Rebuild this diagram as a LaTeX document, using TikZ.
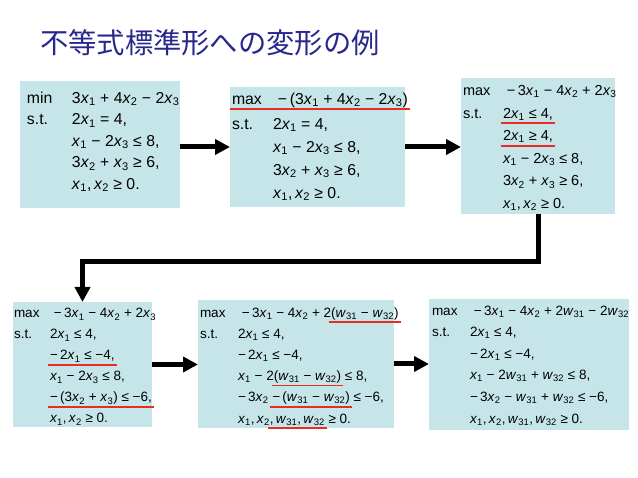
\documentclass[tikz,border=0pt]{standalone}
\usepackage{fontspec}
\setmainfont{Liberation Sans}
\newfontfamily\jpfont{Noto Sans CJK JP}
\usetikzlibrary{arrows.meta}
\definecolor{boxfill}{RGB}{198,229,233}
\definecolor{titleblue}{RGB}{40,40,140}
\definecolor{ulred}{RGB}{232,45,35}
\newcommand\vx[1]{\textit{x}\textsubscript{#1}}
\newcommand\vw[1]{\textit{w}\textsubscript{#1}}
\newlength\labw
\newcommand\lab[1]{\makebox[\labw][l]{#1}}
\newsavebox\ulbox
\newcommand\ul[1]{\sbox\ulbox{#1}\rlap{\hspace{-2pt}\textcolor{ulred}{\rule[-5.8pt]{\dimexpr\wd\ulbox+4pt\relax}{1.9pt}}}\usebox\ulbox}
\tikzset{
  panel/.style={fill=boxfill, draw=none, inner sep=0pt, outer sep=0pt, anchor=north west},
  formula/.style={anchor=north west, inner sep=0pt, outer sep=0pt, align=left},
  arr/.style={line width=5pt, -{Triangle[width=15pt,length=15pt]}},
}
\begin{document}
\begin{tikzpicture}[x=1pt,y=-1pt]
\useasboundingbox (0,0) rectangle (638,478);
\node[anchor=west, text=titleblue, font=\jpfont\fontsize{28.3}{30}\selectfont, inner sep=0pt] (title) at (40,43) {不等式標準形への変形の例};

% panels
\node[panel, minimum width=160pt, minimum height=127pt] (b1) at (20,81) {};
\node[panel, minimum width=175pt, minimum height=120pt] (b2) at (230,87) {};
\node[panel, minimum width=154pt, minimum height=136pt] (b3) at (461,78) {};
\node[panel, minimum width=139pt, minimum height=125pt] (b4) at (13,302) {};
\node[panel, minimum width=196pt, minimum height=128pt] (b5) at (198,300) {};
\node[panel, minimum width=200pt, minimum height=131pt] (b6) at (429,299) {};

% texts
\global\labw=45pt
\node[formula, font=\fontsize{15.8}{21.5}\selectfont] (t1) at (27,88) {%
\strut\lab{min}3\vx1 + 4\vx2 − 2\vx3\\
\lab{s.t.}2\vx1 = 4,\\
\lab{}\vx1 − 2\vx3 ≤ 8,\\
\lab{}3\vx2 + \vx3 ≥ 6,\\
\lab{}\vx1,\,\vx2 ≥ 0.};

\global\labw=41pt
\node[formula, font=\fontsize{15.8}{23}\selectfont] (t2) at (232,88) {%
\strut\ul{\lab{max}\hspace{5pt}−\,(3\vx1 + 4\vx2 − 2\vx3)}\\[2pt]
\lab{s.t.}2\vx1 = 4,\\
\lab{}\vx1 − 2\vx3 ≤ 8,\\
\lab{}3\vx2 + \vx3 ≥ 6,\\
\lab{}\vx1,\,\vx2 ≥ 0.};

\global\labw=40pt
\node[formula, font=\fontsize{14.5}{22.6}\selectfont] (t3) at (463,79.7) {%
\strut\lab{max}\hspace{4pt}−\,3\vx1 − 4\vx2 + 2\vx3\\
\lab{s.t.}\ul{2\vx1 ≤ 4,}\\
\lab{}\ul{2\vx1 ≥ 4,}\\
\lab{}\vx1 − 2\vx3 ≤ 8,\\
\lab{}3\vx2 + \vx3 ≥ 6,\\
\lab{}\vx1,\,\vx2 ≥ 0.};

\global\labw=36pt
\node[formula, font=\fontsize{13.5}{21}\selectfont] (t4) at (14,303.3) {%
\strut\lab{max}\hspace{4pt}−\,3\vx1 − 4\vx2 + 2\vx3\\
\lab{s.t.}2\vx1 ≤ 4,\\
\lab{}\ul{−\,2\vx1 ≤ −4,}\\
\lab{}\vx1 − 2\vx3 ≤ 8,\\
\lab{}\ul{−\,(3\vx2 + \vx3) ≤ −6,}\\
\lab{}\vx1,\,\vx2 ≥ 0.};

\global\labw=38pt
\node[formula, font=\fontsize{13.5}{21.2}\selectfont] (t5) at (200,302.2) {%
\strut\lab{max}\hspace{4pt}−\,3\vx1 − 4\vx2 + 2\ul{(\vw{31} − \vw{32})}\\
\lab{s.t.}2\vx1 ≤ 4,\\
\lab{}−\,2\vx1 ≤ −4,\\
\lab{}\vx1 − 2\ul{(\vw{31} − \vw{32})} ≤ 8,\\
\lab{}−\,3\vx2 \ul{−\,(\vw{31} − \vw{32})} ≤ −6,\\
\lab{}\vx1,\,\vx2\ul{,\,\vw{31},\,\vw{32}} ≥ 0.};

\global\labw=38pt
\node[formula, font=\fontsize{13.5}{21.6}\selectfont] (t6) at (432,299.9) {%
\strut\lab{max}\hspace{4pt}−\,3\vx1 − 4\vx2 + 2\vw{31} − 2\vw{32}\\
\lab{s.t.}2\vx1 ≤ 4,\\
\lab{}−\,2\vx1 ≤ −4,\\
\lab{}\vx1 − 2\vw{31} + \vw{32} ≤ 8,\\
\lab{}−\,3\vx2 − \vw{31} + \vw{32} ≤ −6,\\
\lab{}\vx1,\,\vx2,\,\vw{31},\,\vw{32} ≥ 0.};

% connectors
\draw[arr] (b1.east |- b2.west) -- (b2.west);
\draw[arr] (b2.east) -- (b2.east -| b3.west);
\draw[arr] (b3.south) -- ++(0,48) -| (b4.north);
\draw[arr] (b4.east) -- (b4.east -| b5.west);
\draw[arr] (b5.east) -- (b5.east -| b6.west);
\end{tikzpicture}
\end{document}
